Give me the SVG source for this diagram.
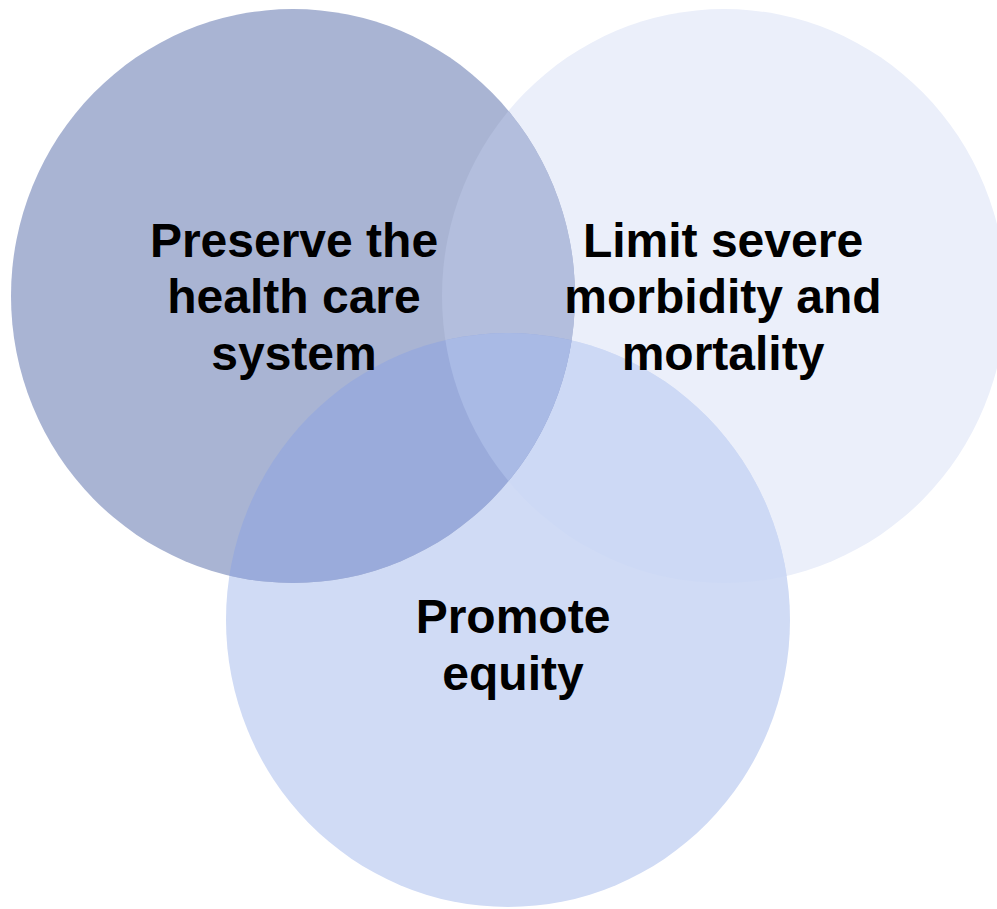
<svg xmlns="http://www.w3.org/2000/svg" width="997" height="909" viewBox="0 0 997 909">
<style>
.lbl{font-family:"Liberation Sans",Arial,sans-serif;font-weight:bold;font-size:48px;fill:#000;text-anchor:middle}
</style>
<defs>
<ellipse id="cA" cx="293" cy="296" rx="282" ry="287"/>
<ellipse id="cR" cx="724" cy="296" rx="282" ry="287"/>
<ellipse id="cB" cx="508" cy="620" rx="282" ry="287"/>
<clipPath id="clipA"><use href="#cA"/></clipPath>
<clipPath id="clipR"><use href="#cR"/></clipPath>
</defs>
<rect width="997" height="909" fill="#ffffff"/>
<g id="circle-limit"><use href="#cR" fill="#EBEFFA"/></g>
<g id="circle-promote"><use href="#cB" fill="#D0DBF5"/></g>
<g id="circle-preserve"><use href="#cA" fill="#A9B4D3"/></g>
<g id="overlaps">
<use href="#cB" fill="#CDD9F5" clip-path="url(#clipR)"/>
<use href="#cR" fill="#B3BEDD" clip-path="url(#clipA)"/>
<use href="#cB" fill="#9AABDB" clip-path="url(#clipA)"/>
<g clip-path="url(#clipA)"><use href="#cB" fill="#A9BAE5" clip-path="url(#clipR)"/></g>
</g>
<g id="connectors"></g>
<g id="label-preserve">
<text class="lbl" x="294" y="257">Preserve the</text>
<text class="lbl" x="294" y="313">health care</text>
<text class="lbl" x="294" y="370">system</text>
</g>
<g id="label-limit">
<text class="lbl" x="723" y="257">Limit severe</text>
<text class="lbl" x="723" y="313">morbidity and</text>
<text class="lbl" x="723" y="370">mortality</text>
</g>
<g id="label-promote">
<text class="lbl" x="513" y="633">Promote</text>
<text class="lbl" x="513" y="690">equity</text>
</g>
</svg>
